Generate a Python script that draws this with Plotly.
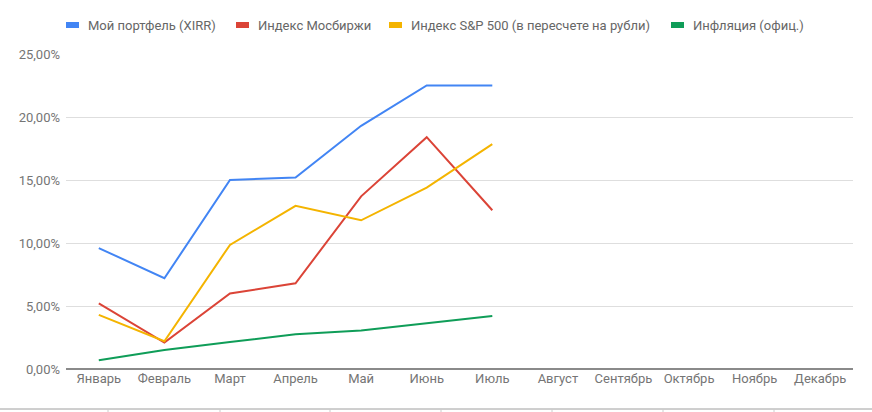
import plotly.graph_objects as go

months = ["Январь", "Февраль", "Март", "Апрель", "Май", "Июнь", "Июль",
          "Август", "Сентябрь", "Октябрь", "Ноябрь", "Декабрь"]
names = ["Мой портфель (XIRR)", "Индекс Мосбиржи",
         "Индекс S&P 500 (в пересчете на рубли)", "Инфляция (офиц.)"]
portfolio = [9.6, 7.2, 15.0, 15.2, 19.3, 22.5, 22.5]
moex = [5.2, 2.1, 6.0, 6.8, 13.7, 18.4, 12.6]
sp500 = [4.3, 2.2, 9.85, 12.95, 11.8, 14.4, 17.85]
inflation = [0.7, 1.5, 2.15, 2.75, 3.05, 3.6, 4.2]
series = [portfolio, moex, sp500, inflation]
colors = ["#4285F4", "#DB4437", "#F4B400", "#0F9D58"]
yticks = [0, 5, 10, 15, 20, 25]
ytick_text = [f"{v:.2f}".replace(".", ",") + "%" for v in yticks]

W, H = 872, 412
L, R, T, B = 66, 19, 54, 43
pw, ph = W - L - R, H - T - B

fig = go.Figure()
for name, vals, col in zip(names, series, colors):
    fig.add_trace(go.Scatter(
        x=months[:len(vals)], y=vals, name=name, mode="lines",
        line=dict(color=col, width=2), showlegend=False,
    ))

# manual legend (Google-chart style small rectangles)
legend_x = [66, 236, 389, 671]
shapes = []
annotations = []
ly = (H - B - 25) / ph
for px, name, col in zip(legend_x, names, colors):
    x0 = (px - L) / pw
    x1 = (px + 13 - L) / pw
    shapes.append(dict(type="rect", xref="paper", yref="paper",
                       x0=x0, x1=x1, y0=ly - 3 / ph, y1=ly + 3 / ph,
                       fillcolor=col, line=dict(width=0)))
    annotations.append(dict(xref="paper", yref="paper", x=(px + 20 - L) / pw, y=ly,
                            xanchor="left", yanchor="middle", showarrow=False,
                            text=name, font=dict(family="Roboto", size=13, color="#666666")))

# page border below chart
by = (H - B - 409) / ph
shapes.append(dict(type="line", xref="paper", yref="paper",
                   x0=-L / pw, x1=(W - L) / pw, y0=by, y1=by,
                   line=dict(color="#9e9e9e", width=1)))
for px in [108, 220, 330, 441, 552, 663, 774]:
    shapes.append(dict(type="line", xref="paper", yref="paper",
                       x0=(px - L) / pw, x1=(px - L) / pw, y0=by, y1=by - 4 / ph,
                       line=dict(color="#cccccc", width=1)))

fig.update_layout(
    width=W, height=H,
    margin=dict(l=L, r=R, t=T, b=B, pad=0),
    paper_bgcolor="white", plot_bgcolor="white",
    font=dict(family="Roboto", size=13, color="#757575"),
    shapes=shapes, annotations=annotations,
    xaxis=dict(type="category", categoryorder="array", categoryarray=months,
               tickvals=months, range=[-0.5, 11.5], showgrid=False,
               showline=False, zeroline=False, ticks="",
               tickfont=dict(family="Roboto", size=13, color="#757575")),
    yaxis=dict(range=[0, 25], tickvals=yticks, ticktext=ytick_text,
               showgrid=True, gridcolor="#dedede", gridwidth=1,
               zeroline=True, zerolinecolor="#8a8a8a", zerolinewidth=2,
               showline=False, ticks="", ticklabelstandoff=5,
               tickfont=dict(family="Roboto", size=13, color="#757575")),
)

fig.write_html("out.html")
